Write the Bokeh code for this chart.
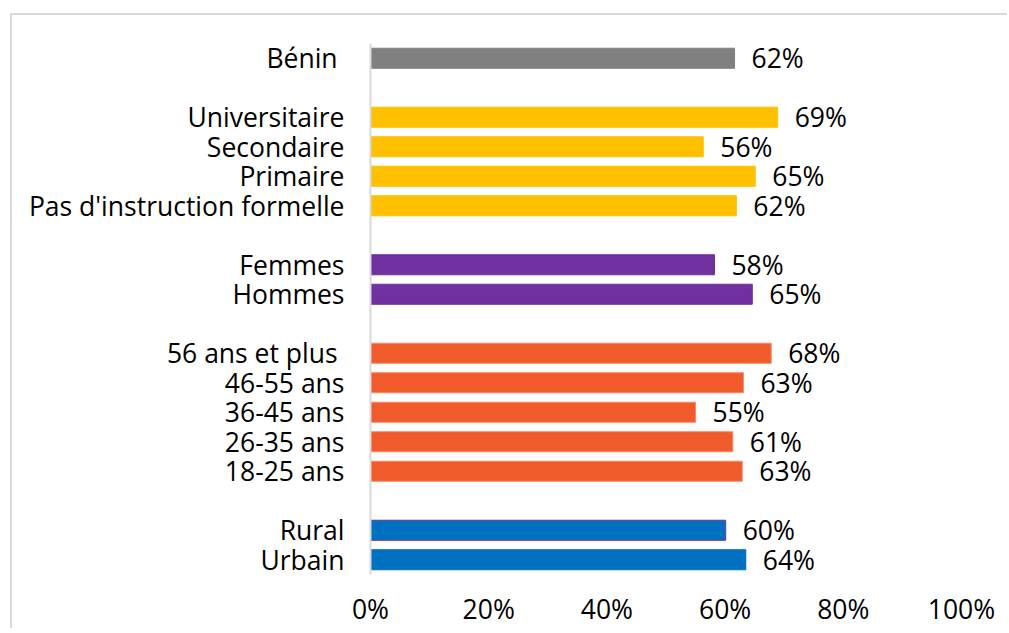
from bokeh.plotting import figure
from bokeh.models import Range1d, FixedTicker, ColumnDataSource, PrintfTickFormatter
from bokeh.core.properties import value
from bokeh.embed import file_html
from bokeh.resources import INLINE

# ---- data ----
benin_labels = ["Bénin\u00a0"]
benin_values = [61.6]
edu_labels = ["Universitaire", "Secondaire", "Primaire", "Pas d'instruction formelle"]
edu_values = [68.9, 56.3, 65.1, 61.9]
sex_labels = ["Femmes", "Hommes"]
sex_values = [58.2, 64.6]
age_labels = ["56 ans et plus\u00a0", "46-55 ans", "36-45 ans", "26-35 ans", "18-25 ans"]
age_values = [67.8, 63.1, 55.0, 61.3, 62.9]
milieu_labels = ["Rural", "Urbain"]
milieu_values = [60.1, 63.5]
x_ticks = [0, 20, 40, 60, 80, 100]

groups = [
    (benin_labels, benin_values, "#808080", "#808080"),
    (edu_labels, edu_values, "#FFC000", "#FFC000"),
    (sex_labels, sex_values, "#7030A0", "#7030A0"),
    (age_labels, age_values, "#F15A2B", "#F58A6A"),
    (milieu_labels, milieu_values, "#0070C0", None),
]

FONT = "Open Sans"
FS = "26.5px"

p = figure(width=997, height=615, output_backend="svg", toolbar_location=None,
           x_range=Range1d(0, 100), y_range=Range1d(17.5, -0.5),
           min_border_left=358, min_border_right=48, min_border_top=28, min_border_bottom=56)
p.styles = {"margin-left": "10px", "margin-top": "13px",
            "border-top": "2px solid #D9D9D9", "border-left": "2px solid #D9D9D9"}
p.outline_line_color = None
p.xgrid.visible = False
p.ygrid.visible = False

row = 0
tick_pos = []
overrides = {}
for gi, (labels, vals, color, lcolor) in enumerate(groups):
    ys = list(range(row, row + len(labels)))
    if labels is milieu_labels:
        lcols = ["#7030A0", "#0070C0"]
    else:
        lcols = [lcolor] * len(labels)
    src = ColumnDataSource(dict(y=ys, v=vals, lab=[f"{round(v)}%" for v in vals], lc=lcols))
    p.hbar(y="y", right="v", left=0, height=0.68, source=src, fill_color=color,
           line_color="lc", line_width=1)
    p.text(x="v", y="y", text="lab", source=src, x_offset=17, y_offset=0,
           text_baseline="middle", text_align="left", text_font=value(FONT),
           text_font_size=FS, text_color="#000000")
    for y, l in zip(ys, labels):
        tick_pos.append(y)
        overrides[y] = l
    row += len(labels) + 1

p.yaxis.ticker = FixedTicker(ticks=tick_pos)
p.yaxis.major_label_overrides = overrides
p.yaxis.major_tick_line_color = None
p.yaxis.minor_tick_line_color = None
p.yaxis.axis_line_color = "#D9D9D9"
p.yaxis.axis_line_width = 2
p.yaxis.major_label_standoff = 20
p.yaxis.major_label_text_font = FONT
p.yaxis.major_label_text_font_size = FS
p.yaxis.major_label_text_color = "#000000"

p.xaxis.ticker = FixedTicker(ticks=x_ticks)
p.xaxis.formatter = PrintfTickFormatter(format="%d%%")
p.xaxis.axis_line_color = None
p.xaxis.major_tick_line_color = None
p.xaxis.minor_tick_line_color = None
p.xaxis.major_label_standoff = 10
p.xaxis.major_label_text_font = FONT
p.xaxis.major_label_text_font_size = FS
p.xaxis.major_label_text_color = "#000000"

open("out.html", "w").write(file_html(p, INLINE))
